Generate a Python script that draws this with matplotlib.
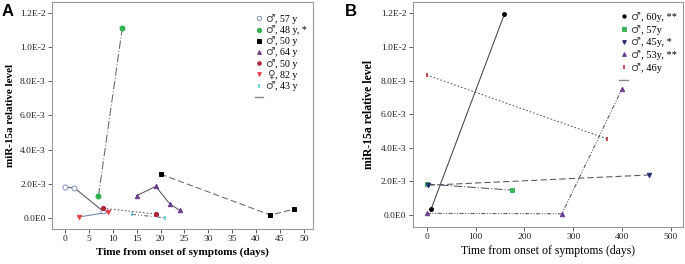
import matplotlib
matplotlib.use("Agg")
import matplotlib.pyplot as plt
from matplotlib.lines import Line2D
from matplotlib.ticker import FixedLocator, FixedFormatter
from matplotlib.font_manager import FontProperties

# ---------------- data ----------------
# Panel A
a_labels = ["♂, 57 y", "♂, 48 y, *", "♂, 50 y", "♂, 64 y", "♂, 50 y", "♀, 82 y", "♂, 43 y"]
a_x = [
    [0, 2, 8],
    [7, 12],
    [20, 43, 48],
    [15, 19, 22, 24],
    [8, 19],
    [3, 9],
    [14, 21],
]
a_y = [
    [1.83e-3, 1.77e-3, 0.41e-3],
    [1.28e-3, 11.1e-3],
    [2.58e-3, 0.19e-3, 0.54e-3],
    [1.32e-3, 1.86e-3, 0.82e-3, 0.47e-3],
    [0.58e-3, 0.25e-3],
    [0.08e-3, 0.35e-3],
    [0.23e-3, 0.03e-3],
]
# Panel B
b_labels = ["♂, 60y, **", "♂, 57y", "♂, 45y, *", "♂, 53y, **", "♂, 46y"]
b_x = [
    [9, 159],
    [0, 174],
    [3, 455],
    [0, 277, 400],
    [0, 370],
]
b_y = [
    [0.35e-3, 11.94e-3],
    [1.84e-3, 1.48e-3],
    [1.77e-3, 2.38e-3],
    [0.10e-3, 0.07e-3, 7.5e-3],
    [8.33e-3, 4.52e-3],
]
y_ticks = [0, 2e-3, 4e-3, 6e-3, 8e-3, 10e-3, 12e-3]
y_ticklabels = ["0.0E0", "2.0E-3", "4.0E-3", "6.0E-3", "8.0E-3", "1.0E-2", "1.2E-2"]
a_xticks = [0, 5, 10, 15, 20, 25, 30, 35, 40, 45, 50]
b_xticks = [0, 100, 200, 300, 400, 500]

# ---------------- styles ----------------
a_styles = [
    dict(marker="o", mfc="white", mec="#7f8fc0", ls="-", lc="#555555", ms=3.6),
    dict(marker="o", mfc="#2fb34c", mec="#2fb34c", ls=(0, (8, 2, 1, 2)), lc="#666666", ms=3.6),
    dict(marker="s", mfc="black", mec="black", ls=(0, (6, 3)), lc="#666666", ms=3.0),
    dict(marker="^", mfc="#6a3d8f", mec="#6a3d8f", ls="-", lc="#555555", ms=3.2),
    dict(marker="o", mfc="#b0243a", mec="#b0243a", ls=(0, (1.5, 2)), lc="#555555", ms=3.0),
    dict(marker="v", mfc="#e8434b", mec="#e8434b", ls="-", lc="#7080a0", ms=3.2),
    dict(marker="|", mfc="#5ec8c8", mec="#5ec8c8", ls=(0, (4, 2, 1, 2, 1, 2)), lc="#666666", ms=3.4),
]
b_styles = [
    dict(marker="o", mfc="black", mec="black", ls="-", lc="#444444", ms=2.8),
    dict(marker="s", mfc="#3cb45a", mec="#3cb45a", ls=(0, (8, 2, 1, 2)), lc="#555555", ms=2.8),
    dict(marker="v", mfc="#2a2f6e", mec="#2a2f6e", ls=(0, (6, 3)), lc="#555566", ms=3.2),
    dict(marker="^", mfc="#6a3d8f", mec="#6a3d8f", ls=(0, (4, 1.5, 1, 1.5, 1, 1.5)), lc="#555555", ms=3.2),
    dict(marker="|", mfc="#c0303a", mec="#c0303a", ls=(0, (1.5, 2)), lc="#555555", ms=3.4),
]

serif = ["Liberation Serif", "DejaVu Serif"]

fig = plt.figure(figsize=(6.85, 2.64), dpi=100)
axA = fig.add_axes([52 / 685, 35 / 264, 261 / 685, 227 / 264])
axB = fig.add_axes([412.7 / 685, 37.3 / 264, 270.3 / 685, 224.7 / 264])


def draw(ax, xs, ys, labels, styles, xticks, xlim, ylim, xbold, lblsize,
         legsize, lspacing, anchor):
    handles = []
    syms = []
    for x, y, lab, st in zip(xs, ys, labels, styles):
        ax.plot(x, y, ls=st["ls"], color=st["lc"], lw=0.75, zorder=2)
        mew = 1.2 if st["marker"] == "|" else 0.7
        ax.plot(x, y, ls="none", marker=st["marker"], ms=st["ms"], mfc=st["mfc"],
                mec=st["mec"], mew=mew, zorder=3)
        syms.append(lab[0])
        handles.append(Line2D([], [], ls="none", marker=st["marker"], ms=st["ms"] * 0.85,
                              mfc=st["mfc"], mec=st["mec"], mew=mew, label=lab[1:]))
    handles.append(Line2D([], [], color="#888888", lw=1.0, label=" "))
    syms.append("")
    ax.set_xlim(*xlim)
    ax.set_ylim(*ylim)
    ax.xaxis.set_major_locator(FixedLocator(xticks))
    ax.yaxis.set_major_locator(FixedLocator(y_ticks))
    ax.yaxis.set_major_formatter(FixedFormatter(y_ticklabels))
    for lbl in ax.get_xticklabels() + ax.get_yticklabels():
        lbl.set_family(serif)
        lbl.set_fontsize(6.8)
        lbl.set_color("#222222")
    ax.tick_params(axis="both", length=3, width=0.6, color="#444444", pad=1.5)
    for sp in ax.spines.values():
        sp.set_color("#999999")
        sp.set_linewidth(0.8)
    ax.set_xlabel("Time from onset of symptoms (days)", family=serif, fontsize=lblsize,
                  fontweight="bold" if xbold else "normal", labelpad=3)
    ax.set_ylabel("miR-15a relative level", family=serif, fontsize=lblsize,
                  fontweight="bold", labelpad=4)
    leg = ax.legend(handles=handles, loc="upper right", frameon=False,
                    prop=dict(family=serif, size=legsize), handlelength=0.8,
                    handletextpad=1.25, labelspacing=lspacing, borderaxespad=0.2,
                    bbox_to_anchor=anchor)
    return leg, syms, legsize


legA = draw(axA, a_x, a_y, a_labels, a_styles, a_xticks, (-2.7, 51.9),
            (-0.000625, 0.01262), True, 8, 7.2, 0.22, (1.0, 0.97))
legB = draw(axB, b_x, b_y, b_labels, b_styles, b_xticks, (-28.7, 525),
            (-0.000696, 0.01267), False, 8.5, 7.5, 0.32, (1.0, 0.98))

fig.text(2 / 685, 1 - 4 / 264, "A", family=["Liberation Sans", "DejaVu Sans"],
         fontweight="bold", fontsize=12, va="top", ha="left")
fig.text(345 / 685, 1 - 4 / 264, "B", family=["Liberation Sans", "DejaVu Sans"],
         fontweight="bold", fontsize=12, va="top", ha="left")

# gender symbols drawn in a font where they are full-size
fig.canvas.draw()
renderer = fig.canvas.get_renderer()
W, H = fig.bbox.width, fig.bbox.height
for leg, syms, lsz in (legA, legB):
    symfont = FontProperties(family="DejaVu Sans", size=lsz + 0.5)
    for t, s in zip(leg.get_texts(), syms):
        if not s:
            continue
        bb = t.get_window_extent(renderer)
        _, _, d = renderer.get_text_width_height_descent("lp", t.get_fontproperties(), ismath=False)
        fig.text((bb.x0 - 0.5) / W, (bb.y0 + d) / H, s, fontproperties=symfont,
                 ha="right", va="baseline", color="#444444")

fig.savefig("out.png", dpi=100)
